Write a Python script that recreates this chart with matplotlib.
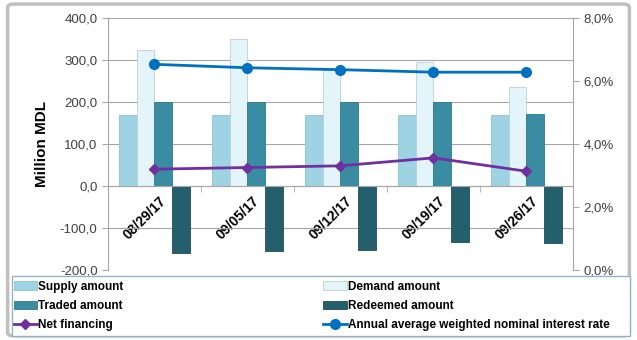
import numpy as np
import matplotlib.pyplot as plt
import matplotlib.transforms as mtransforms
from matplotlib.patches import FancyBboxPatch, Rectangle
from matplotlib.ticker import FuncFormatter, MultipleLocator, FixedLocator

dates = ["08/29/17", "09/05/17", "09/12/17", "09/19/17", "09/26/17"]
supply = [170, 170, 170, 170, 170]
demand = [324, 349, 277, 296, 235]
traded = [200, 200, 200, 200, 171]
redeemed = [-160, -156, -152, -133, -136]
net_financing = [40, 44, 48, 67, 35]
interest_rate = [6.53, 6.42, 6.36, 6.28, 6.28]

plt.rcParams['font.family'] = ['Liberation Sans', 'DejaVu Sans']

fig = plt.figure(figsize=(6.37, 3.4), dpi=100)
ax = fig.add_axes([0.1695, 0.206, 0.73, 0.741])
ax2 = ax.twinx()

# outer chart frame
frame = FancyBboxPatch((0.012, 0.012), 0.976, 0.976, boxstyle="round,pad=0,rounding_size=0.01",
                       transform=fig.transFigure, facecolor="none", edgecolor="#BFBFBF", linewidth=2.5)
fig.patches.append(frame)
# legend box
fig.patches.append(Rectangle((12 / 637, 4 / 340), 618 / 637, 60 / 340, transform=fig.transFigure,
                             facecolor="white", edgecolor="#95B3C7", linewidth=1))

x = np.arange(len(dates))
w = 0.19
bar_styles = [
    (supply, "#9DD3E3", "#8CC3D3", "Supply amount"),
    (demand, "#E3F5FA", "#BFCDD2", "Demand amount"),
    (traded, "#3A8CA3", "#2F7A8F", "Traded amount"),
    (redeemed, "#245F6E", "#1D4F5C", "Redeemed amount"),
]
handles = []
for i, (vals, fc, ec, lab) in enumerate(bar_styles):
    b = ax.bar(x + (i - 1.5) * w, vals, width=w, color=fc, edgecolor=ec, linewidth=0.6, label=lab, zorder=2)
    handles.append(b)

ln1, = ax.plot(x, net_financing, color="#7030A0", linewidth=2, marker="D", markersize=5,
               label="Net financing", zorder=4)
ln2, = ax2.plot(x, interest_rate, color="#0070C0", linewidth=2, marker="o", markersize=7,
                label="Annual average weighted nominal interest rate", zorder=4)

ax.set_xlim(-0.5, len(dates) - 0.5)
ax.set_ylim(-200, 400)
ax.yaxis.set_major_locator(MultipleLocator(100))
ax.yaxis.set_major_formatter(FuncFormatter(lambda v, p: f"{v:.1f}".replace(".", ",")))
ax.grid(axis="y", color="#A6A6A6", linewidth=0.8, zorder=0)
ax.set_axisbelow(True)

ax2.set_ylim(0, 8)
ax2.yaxis.set_major_locator(MultipleLocator(2))
ax2.yaxis.set_major_formatter(FuncFormatter(lambda v, p: f"{v:.1f}%".replace(".", ",")))

ax.spines['bottom'].set_position(('data', 0))
ax.spines['bottom'].set_color("#A6A6A6")
ax.spines['top'].set_visible(False)
ax2.spines['top'].set_visible(False)
ax2.spines['bottom'].set_visible(False)
ax.spines['left'].set_color("#A6A6A6")
ax2.spines['right'].set_color("#A6A6A6")
ax2.spines['left'].set_visible(False)
ax.spines['right'].set_visible(False)

ax.set_xticks(x)
ax.set_xticklabels(dates, rotation=45, ha="right", rotation_mode="anchor", fontweight="bold", fontsize=10)
ax.tick_params(axis="x", which="major", length=0, pad=6)
# nudge date labels a little to the right, as in the original
shift = mtransforms.ScaledTranslation(5 / 100, 0, fig.dpi_scale_trans)
for lbl in ax.get_xticklabels():
    lbl.set_transform(lbl.get_transform() + shift)
ax.xaxis.set_minor_locator(FixedLocator(x[:-1] + 0.5))
ax.tick_params(axis="x", which="minor", length=4, color="#A6A6A6")
ax.tick_params(axis="y", length=4, color="#A6A6A6", labelsize=9.5, labelcolor="#404040")
ax2.tick_params(axis="y", length=4, color="#A6A6A6", labelsize=9.5, labelcolor="#404040")

ax.set_ylabel("Million MDL", fontweight="bold", fontsize=11, labelpad=8)

# column-wise fill: first column, then second
leg = fig.legend(handles=[handles[0], handles[2], ln1, handles[1], handles[3], ln2],
                 loc="upper left", bbox_to_anchor=(10 / 637, 1 - 277 / 340),
                 ncol=2, frameon=False, borderaxespad=0,
                 handlelength=2.0, handletextpad=0.1, labelspacing=0.62, borderpad=0.3,
                 columnspacing=16.9,
                 prop={"weight": "bold", "size": 8.5})

plt.savefig("out.png", dpi=100)
